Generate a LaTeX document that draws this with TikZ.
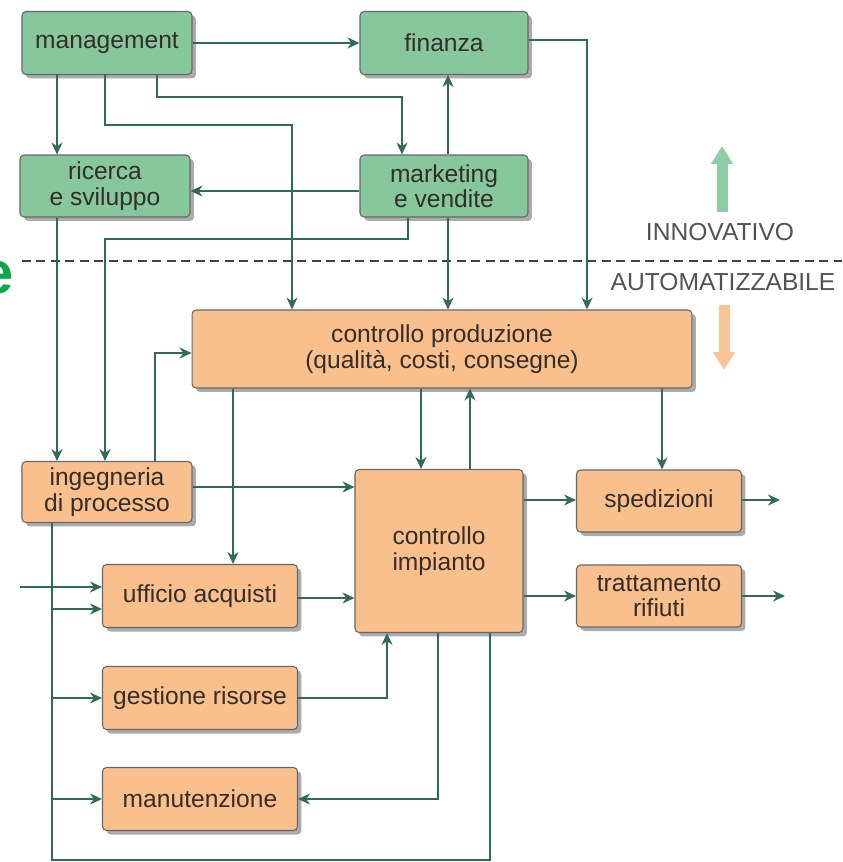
\documentclass[tikz,border=0pt]{standalone}
\usepackage{fontspec}
\setmainfont{Liberation Sans}
\usetikzlibrary{shadows, arrows.meta, positioning}
\definecolor{boxgreen}{HTML}{86C79C}
\definecolor{boxorange}{HTML}{F9C08E}
\definecolor{wirecol}{HTML}{2F6B56}
\definecolor{inkbrown}{HTML}{352D27}
\definecolor{innogreen}{HTML}{8FCDA5}
\definecolor{autoorange}{HTML}{F9C595}
\definecolor{brightgreen}{HTML}{0BA84A}

\tikzset{
  blk/.style={rectangle, rounded corners=0.08cm, draw=black!60, line width=0.6pt,
    text=inkbrown, align=center, inner sep=0pt,
    font=\fontsize{14}{14.5}\selectfont,
    drop shadow={shadow xshift=0.08cm, shadow yshift=-0.08cm, fill=black!55, opacity=0.6}},
  gbox/.style={blk, fill=boxgreen},
  obox/.style={blk, fill=boxorange},
  wire/.style={draw=wirecol, line width=0.05cm, -{Stealth[length=0.24cm,width=0.22cm]}},
  plainwire/.style={draw=wirecol, line width=0.05cm},
  lbl/.style={text=black!68, font=\fontsize{14}{16}\selectfont},
  bigarrow/.style={line width=0.22cm, -{Triangle[length=0.36cm,width=0.42cm]}}
}

\begin{document}
\begin{tikzpicture}[x=0.02cm, y=-0.02cm]
    \useasboundingbox (0,0) rectangle (842,862);

    \node[gbox, minimum width=3.4cm, minimum height=1.26cm] (mgmt) at (107,43) {management};
    \node[gbox, minimum width=3.36cm, minimum height=1.26cm] (fin) at (444,43) {finanza};
    \node[gbox, minimum width=3.4cm, minimum height=1.24cm] (ricerca) at (105,186) {ricerca\\e sviluppo};
    \node[gbox, minimum width=3.36cm, minimum height=1.24cm] (mkt) at (444,186) {marketing\\e vendite};
    \node[obox, minimum width=10cm, minimum height=1.56cm] (cprod) at (442,349) {controllo produzione\\(qualità, costi, consegne)};
    \node[obox, minimum width=3.4cm, minimum height=1.22cm] (ing) at (107,492) {ingegneria\\di processo};
    \node[obox, minimum width=3.36cm, minimum height=3.26cm] (cimp) at (439,551) {controllo\\impianto};
    \node[obox, minimum width=3.3cm, minimum height=1.24cm] (sped) at (659,501) {spedizioni};
    \node[obox, minimum width=3.3cm, minimum height=1.24cm] (tratt) at (659,596) {trattamento\\rifiuti};
    \node[obox, minimum width=3.9cm, minimum height=1.26cm] (uff) at (200,596) {ufficio acquisti};
    \node[obox, minimum width=3.9cm, minimum height=1.26cm] (gest) at (200,698) {gestione risorse};
    \node[obox, minimum width=3.9cm, minimum height=1.26cm] (manu) at (200,799) {manutenzione};

    \node[lbl] (innov) at (720,232) {INNOVATIVO};
    \node[lbl] (autom) at (723,282) {AUTOMATIZZABILE};
    \node[text=brightgreen, font=\bfseries\fontsize{34}{34}\selectfont] (cutoff) at (-3,278) {e};

    \draw[dash pattern=on 0.18cm off 0.11cm, line width=0.05cm, black!75] (22,261) -- (842,261);
    \draw[bigarrow, innogreen] (722,212) -- (722,146);
    \draw[bigarrow, autoorange] (724,305) -- (724,370);

    \coordinate (busl) at (52,860);
    \coordinate (inacq) at (20,587);
    \coordinate (outsped) at (780,500);
    \coordinate (outtratt) at (785,596);

    \draw[wire] (mgmt) -- (fin);
    \draw[wire] (mgmt.south -| 57,0) -- (ricerca.north -| 57,0);
    \draw[wire] (mgmt.south -| 105,0) |- (292,125) -- (cprod.north -| 292,0);
    \draw[wire] (mgmt.south -| 157,0) |- (402,97) -- (mkt.north -| 402,0);
    \draw[wire] (mkt.north -| 448,0) -- (fin.south -| 448,0);
    \draw[wire] (mkt.west |- 0,191) -- (ricerca.east |- 0,191);
    \draw[wire] (mkt.south -| 408,0) |- (105,239) -- (ing.north -| 105,0);
    \draw[wire] (mkt.south -| 448,0) -- (cprod.north -| 448,0);
    \draw[wire] (fin.east |- 0,40) -| (cprod.north -| 587,0);
    \draw[wire] (ricerca.south -| 57,0) -- (ing.north -| 57,0);
    \draw[wire] (ing.north -| 155,0) |- (cprod.west |- 0,353);
    \draw[wire] (ing.east |- 0,487) -- (cimp.west |- 0,487);
    \draw[wire] (cprod.south -| 233,0) -- (uff.north -| 233,0);
    \draw[wire] (cprod.south -| 421,0) -- (cimp.north -| 421,0);
    \draw[wire] (cimp.north -| 470,0) -- (cprod.south -| 470,0);
    \draw[wire] (cprod.south -| 662,0) -- (sped.north -| 662,0);
    \draw[wire] (cimp.east |- outsped) -- (sped.west |- outsped);
    \draw[wire] (sped.east |- outsped) -- (outsped);
    \draw[wire] (cimp.east |- tratt.west) -- (tratt.west);
    \draw[wire] (tratt.east) -- (outtratt);
    \draw[wire] (uff.east |- 0,598) -- (cimp.west |- 0,598);
    \draw[wire] (gest.east) -| (cimp.south -| 387,0);
    \draw[wire] (cimp.south -| 438,0) |- (manu.east);
    \draw[plainwire] (ing.south -| busl) -- (busl) -| (cimp.south -| 490,0);
    \draw[wire] (busl |- 0,609) -- (uff.west |- 0,609);
    \draw[wire] (busl |- gest.west) -- (gest.west);
    \draw[wire] (busl |- manu.west) -- (manu.west);
    \draw[wire] (inacq) -- (uff.west |- inacq);
\end{tikzpicture}
\end{document}
